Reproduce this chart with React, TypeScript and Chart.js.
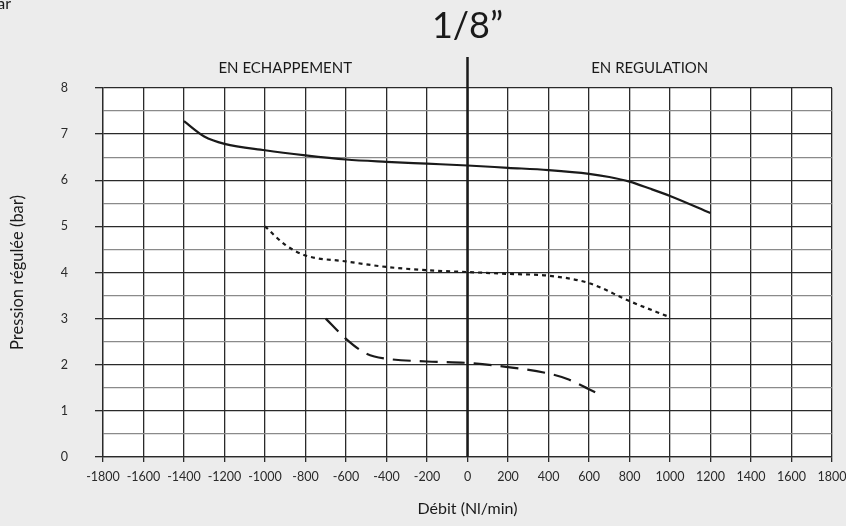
import React, { useEffect, useRef } from "react";
import { Chart, registerables } from "chart.js";

Chart.register(...registerables);

const FONT = "Lato, 'DejaVu Sans', sans-serif";

const xTicks = [-1800, -1600, -1400, -1200, -1000, -800, -600, -400, -200, 0, 200, 400, 600, 800, 1000, 1200, 1400, 1600, 1800];

const solidX = [-1400, -1300, -1200, -1000, -800, -600, -400, -200, 0, 200, 400, 600, 700, 800, 900, 1000, 1200];
const solidY = [7.28, 6.95, 6.79, 6.65, 6.54, 6.45, 6.4, 6.36, 6.32, 6.27, 6.22, 6.14, 6.07, 5.97, 5.82, 5.66, 5.29];

const dottedX = [-1000, -900, -800, -600, -400, -200, 0, 200, 400, 600, 800, 1000];
const dottedY = [5.0, 4.6, 4.37, 4.24, 4.12, 4.05, 4.01, 3.97, 3.93, 3.77, 3.38, 3.03];

const dashedX = [-700, -600, -520, -460, -400, -200, 0, 200, 400, 500, 600, 670];
const dashedY = [3.0, 2.56, 2.29, 2.18, 2.13, 2.07, 2.04, 1.95, 1.81, 1.68, 1.47, 1.32];

const titleText = "1/8\u201D";
const leftZone = "EN ECHAPPEMENT";
const rightZone = "EN REGULATION";
const xTitle = "Débit (Nl/min)";
const yTitle = "Pression régulée (bar)";
const cornerText = "bar";

const pts = (xs: number[], ys: number[]) => xs.map((x, i) => ({ x, y: ys[i] }));

const decor = {
  id: "decor",
  beforeDraw(chart: any) {
    const { ctx, chartArea } = chart;
    ctx.save();
    ctx.fillStyle = "#ececec";
    ctx.fillRect(0, 0, chart.width, chart.height);
    ctx.fillStyle = "#ffffff";
    ctx.fillRect(chartArea.left, chartArea.top, chartArea.right - chartArea.left, chartArea.bottom - chartArea.top);
    ctx.restore();
  },
  afterDraw(chart: any) {
    const { ctx, chartArea, scales } = chart;
    ctx.save();
    const x0 = scales.x.getPixelForValue(0);
    ctx.strokeStyle = "#1a1a1a";
    ctx.lineWidth = 2.5;
    ctx.beginPath();
    ctx.moveTo(x0, 57);
    ctx.lineTo(x0, chartArea.bottom);
    ctx.stroke();

    ctx.fillStyle = "#1a1a1a";
    ctx.textAlign = "center";
    ctx.textBaseline = "middle";
    ctx.font = `400 36px ${FONT}`;
    ctx.fillText(titleText, x0, 26);
    ctx.font = `15px ${FONT}`;
    ctx.fillText(leftZone, (chartArea.left + x0) / 2, 68);
    ctx.fillText(rightZone, (chartArea.right + x0) / 2, 68);
    ctx.textAlign = "right";
    ctx.textBaseline = "alphabetic";
    ctx.font = `16px ${FONT}`;
    ctx.fillText(cornerText, 11, 9);
    ctx.restore();
  },
};

export default function App() {
  const ref = useRef<HTMLCanvasElement | null>(null);
  useEffect(() => {
    document.body.style.margin = "0";
    document.body.style.background = "#ececec";
    const canvas = ref.current!;
    const chart = new Chart(canvas, {
      type: "line",
      data: {
        datasets: [
          {
            data: pts(solidX, solidY),
            borderColor: "#1a1a1a",
            borderWidth: 2.2,
            pointRadius: 0,
            cubicInterpolationMode: "monotone",
          },
          {
            data: pts(dottedX, dottedY),
            borderColor: "#1a1a1a",
            borderWidth: 2.2,
            borderDash: [4, 4],
            pointRadius: 0,
            cubicInterpolationMode: "monotone",
          },
          {
            data: pts(dashedX, dashedY),
            borderColor: "#1a1a1a",
            borderWidth: 2.2,
            borderDash: [18, 9],
            pointRadius: 0,
            cubicInterpolationMode: "monotone",
          },
        ] as any,
      },
      options: {
        responsive: false,
        animation: false,
        parsing: true,
        layout: { padding: { top: 88, right: 14, left: 0, bottom: 0 } },
        plugins: { legend: { display: false }, tooltip: { enabled: false }, title: { display: false } },
        scales: {
          x: {
            type: "linear",
            min: -1800,
            max: 1800,
            afterFit: (s: any) => { s.height = 69; s.paddingLeft = 0; s.paddingRight = 0; },
            afterBuildTicks: (s: any) => { s.ticks = xTicks.map((v) => ({ value: v })); },
            ticks: {
              font: { family: FONT, size: 12.5 },
              color: "#2a2a2a",
              padding: 7,
              maxRotation: 0,
              autoSkip: false,
              callback: (v: any) => String(v),
            },
            grid: { color: "#2a2a2a", lineWidth: 1.3, tickLength: 5, tickColor: "#2a2a2a" },
            border: { display: true, color: "#2a2a2a", width: 1.3 },
            title: {
              display: true,
              text: xTitle,
              font: { family: FONT, size: 16 },
              color: "#1a1a1a",
              padding: { top: 0, bottom: 8 },
            },
          },
          y: {
            type: "linear",
            min: 0,
            max: 8,
            afterFit: (s: any) => { s.width = 103; s.paddingTop = 0; s.paddingBottom = 0; },
            ticks: {
              stepSize: 0.5,
              autoSkip: false,
              font: { family: FONT, size: 12.5 },
              color: "#2a2a2a",
              padding: 27,
              callback: (v: any) => (Number.isInteger(v) ? String(v) : ""),
            },
            grid: {
              color: (c: any) => (c.tick && Number.isInteger(c.tick.value) ? "#2a2a2a" : "#8a8a8a"),
              lineWidth: 1.3,
              tickLength: 8,
              tickColor: (c: any) => (c.tick && Number.isInteger(c.tick.value) ? "#2a2a2a" : "rgba(0,0,0,0)"),
            },
            border: { display: true, color: "#2a2a2a", width: 1.3 },
            title: {
              display: true,
              text: yTitle,
              font: { family: FONT, size: 16.5 },
              color: "#1a1a1a",
              padding: { top: 8, bottom: 0 },
            },
          },
        },
      },
      plugins: [decor],
    } as any);
    return () => chart.destroy();
  }, []);
  return <canvas ref={ref} width={846} height={526} style={{ display: "block" }} />;
}
